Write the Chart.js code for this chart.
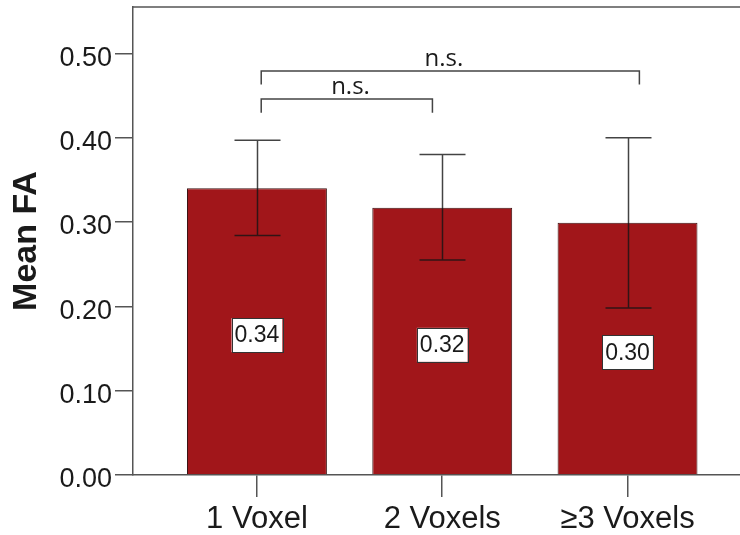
<!DOCTYPE html>
<html>
<head>
<meta charset="utf-8">
<script src="https://cdn.jsdelivr.net/npm/chart.js@4/dist/chart.umd.min.js"></script>
<style>
  html, body { margin: 0; padding: 0; background: #fff; }
  #wrap { width: 740px; height: 535px; }
</style>
</head>
<body>
<div id="wrap"><canvas id="chart" width="740" height="535"></canvas></div>
<script>
// categories and values
const categories = ["1 Voxel", "2 Voxels", "\u22653 Voxels"];
const meanFA = [0.340, 0.317, 0.299];
const valueLabels = ["0.34", "0.32", "0.30"];
const errUpper = [0.397, 0.380, 0.400];
const errLower = [0.284, 0.255, 0.198];
const yTicks = [0.00, 0.10, 0.20, 0.30, 0.40, 0.50];

// significance brackets (x in category units, y in FA units)
const bracketFrom = [1.023, 1.023];
const bracketTo = [1.947, 3.064];
const bracketTop = [0.446, 0.479];
const bracketFoot = [0.4295, 0.463];
const bracketTextX = [1.505, 2.009];
const bracketText = ["n.s.", "n.s."];

const axisColor = "#555";
const textColor = "#1a1a1a";

// extra drawing: top frame line, error bars, value boxes, brackets
const extras = {
  id: "extras",
  afterDatasetsDraw(chart) {
    const ctx = chart.ctx;
    const x = chart.scales.x, y = chart.scales.y;
    const area = chart.chartArea;
    const meta = chart.getDatasetMeta(0);
    ctx.save();

    // top frame line
    ctx.strokeStyle = axisColor;
    ctx.lineWidth = 1.5;
    ctx.beginPath();
    ctx.moveTo(area.left, area.top);
    ctx.lineTo(area.right, area.top);
    ctx.stroke();

    // error bars
    ctx.strokeStyle = "rgba(20,20,20,0.8)";
    ctx.lineWidth = 1.5;
    meta.data.forEach((bar, i) => {
      const cx = Math.round(bar.x) + 0.5;
      const yU = y.getPixelForValue(errUpper[i]);
      const yL = y.getPixelForValue(errLower[i]);
      ctx.beginPath();
      ctx.moveTo(cx, yU); ctx.lineTo(cx, yL);
      ctx.moveTo(cx - 23, yU); ctx.lineTo(cx + 23, yU);
      ctx.moveTo(cx - 23, yL); ctx.lineTo(cx + 23, yL);
      ctx.stroke();
    });

    // value boxes
    ctx.font = "23px 'Liberation Sans', Arial, sans-serif";
    ctx.textAlign = "center";
    ctx.textBaseline = "middle";
    meta.data.forEach((bar, i) => {
      const cy = y.getPixelForValue(meanFA[i] / 2) + 3.5;
      const w = ctx.measureText(valueLabels[i]).width + 6;
      const h = 34;
      ctx.fillStyle = "#fff";
      ctx.fillRect(bar.x - w / 2, cy - h / 2, w, h);
      ctx.strokeStyle = "#333";
      ctx.lineWidth = 1;
      ctx.strokeRect(Math.round(bar.x - w / 2) + 0.5, Math.round(cy - h / 2) + 0.5, Math.round(w), h);
      ctx.fillStyle = textColor;
      ctx.fillText(valueLabels[i], bar.x, cy + 1);
    });

    // brackets
    ctx.strokeStyle = "#444";
    ctx.lineWidth = 1.5;
    ctx.font = "24px 'Open Sans', sans-serif";
    ctx.textBaseline = "alphabetic";
    for (let i = 0; i < bracketText.length; i++) {
      const x1 = x.getPixelForValue(bracketFrom[i]);
      const x2 = x.getPixelForValue(bracketTo[i]);
      const yt = y.getPixelForValue(bracketTop[i]);
      const yf = y.getPixelForValue(bracketFoot[i]);
      ctx.beginPath();
      ctx.moveTo(x1, yf); ctx.lineTo(x1, yt); ctx.lineTo(x2, yt); ctx.lineTo(x2, yf);
      ctx.stroke();
      ctx.fillStyle = textColor;
      ctx.fillText(bracketText[i], x.getPixelForValue(bracketTextX[i]), yt - 5);
    }
    ctx.restore();
  }
};

new Chart(document.getElementById("chart").getContext("2d"), {
  type: "bar",
  data: {
    datasets: [{
      data: meanFA.map((v, i) => ({ x: i + 1, y: v })),
      backgroundColor: "#a1161a",
      borderColor: "#3b1212",
      borderWidth: 1,
      categoryPercentage: 1,
      barPercentage: 0.755
    }]
  },
  options: {
    responsive: false,
    animation: false,
    layout: { padding: { top: 7, right: 0, bottom: 0, left: 0 } },
    plugins: { legend: { display: false }, tooltip: { enabled: false } },
    scales: {
      x: {
        type: "linear",
        min: 0.331,
        max: 3.607,
        offset: false,
        grid: { offset: false, drawOnChartArea: false, tickLength: 22, color: axisColor, lineWidth: 1.5 },
        border: { color: axisColor, width: 1.5 },
        afterBuildTicks: s => { s.ticks = categories.map((c, i) => ({ value: i + 1 })); },
        ticks: {
          callback: v => categories[v - 1],
          autoSkip: false,
          maxRotation: 0,
          padding: 4,
          color: textColor,
          font: { family: "'Liberation Sans', Arial, sans-serif", size: 31 }
        },
        afterFit: s => { s.height = 60; s.paddingLeft = 0; s.paddingRight = 0; }
      },
      y: {
        min: 0,
        max: 0.555,
        afterBuildTicks: s => { s.ticks = yTicks.map(v => ({ value: v })); },
        grid: { drawOnChartArea: false, tickLength: 18, color: axisColor, lineWidth: 1.5 },
        border: { color: axisColor, width: 1.5 },
        ticks: {
          callback: v => v.toFixed(2),
          padding: 3,
          labelOffset: 5,
          color: textColor,
          font: { family: "'Liberation Sans', Arial, sans-serif", size: 27 }
        },
        title: {
          display: true,
          text: "Mean FA",
          color: textColor,
          padding: { top: 6, bottom: 0 },
          font: { family: "'Liberation Sans', Arial, sans-serif", size: 34, weight: "bold", lineHeight: 1.2 }
        },
        afterFit: s => { s.width = 133; s.paddingTop = 0; s.paddingBottom = 0; }
      }
    }
  },
  plugins: [extras]
});
</script>
</body>
</html>
